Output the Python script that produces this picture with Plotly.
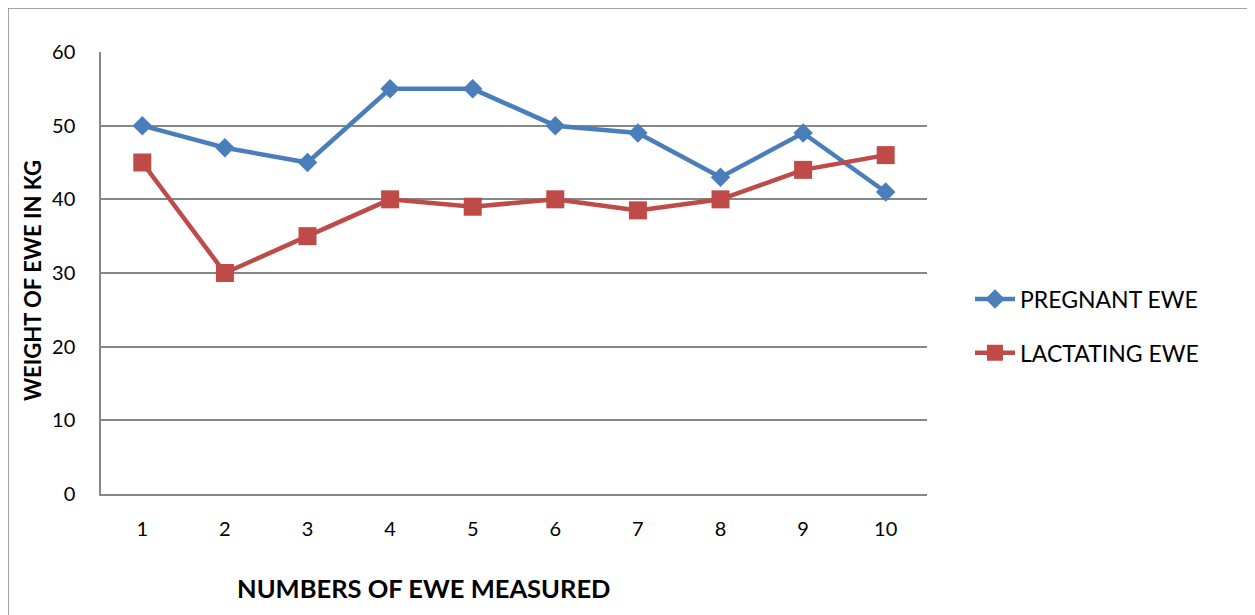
import plotly.graph_objects as go

categories = ["1", "2", "3", "4", "5", "6", "7", "8", "9", "10"]
pregnant = [50, 47, 45, 55, 55, 50, 49, 43, 49, 41]
lactating = [45, 30, 35, 40, 39, 40, 38.5, 40, 44, 46]
y_ticks = [0, 10, 20, 30, 40, 50, 60]

BLUE = "#4a7ebb"
RED = "#be4b48"
GRID = "#868686"
FONT = "Lato, 'Open Sans', sans-serif"

fig = go.Figure()
fig.add_trace(go.Scatter(
    x=categories, y=pregnant, name="PREGNANT EWE", mode="lines+markers",
    line=dict(color=BLUE, width=4.5),
    marker=dict(symbol="diamond", size=15, color=BLUE),
    legendgroup="a",
))
fig.add_trace(go.Scatter(
    x=categories, y=lactating, name="LACTATING EWE", mode="lines+markers",
    line=dict(color=RED, width=4.5),
    marker=dict(symbol="square", size=18, color=RED),
    legendgroup="b",
))

W, H = 1255, 615
OFF = 7  # page offset observed in the rendering
L, R, T, B = 100 - OFF, 926 - OFF, 51 - OFF, 493 - OFF
pw, ph = R - L, B - T


def px_x(x):
    return (x - OFF - L) / pw


def px_y(y):
    return (B - (y - OFF)) / ph


fig.update_layout(
    width=W, height=H,
    margin=dict(l=L, r=W - R, t=T, b=H - B),
    paper_bgcolor="white", plot_bgcolor="white",
    font=dict(family=FONT, color="#000000", size=19),
    showlegend=True,
    legend=dict(
        x=px_x(969), y=px_y(325), xanchor="left", yanchor="middle",
        font=dict(size=23, family=FONT), tracegroupgap=21,
        bgcolor="rgba(0,0,0,0)", itemwidth=40,
    ),
    xaxis=dict(
        type="category", showgrid=False, showline=True, linecolor=GRID, linewidth=1.5,
        ticks="", tickfont=dict(size=20), ticklabelstandoff=16,
        range=[-0.5, 9.5],
    ),
    yaxis=dict(
        range=[0, 60], tickvals=y_ticks, showgrid=True, gridcolor=GRID, gridwidth=1.5,
        showline=True, linecolor=GRID, linewidth=1.5, ticks="", zeroline=False,
        tickfont=dict(size=20), ticklabelstandoff=20,
    ),
    annotations=[
        dict(text="<b>NUMBERS OF EWE MEASURED</b>", xref="paper", yref="paper",
             x=px_x(423), y=px_y(587), showarrow=False, font=dict(size=25.5),
             xanchor="center", yanchor="middle"),
        dict(text="<b>WEIGHT OF EWE IN KG</b>", xref="paper", yref="paper",
             x=px_x(31), y=px_y(280), showarrow=False, font=dict(size=22),
             textangle=-90, xanchor="center", yanchor="middle"),
    ],
    shapes=[dict(
        type="rect", xref="paper", yref="paper",
        x0=px_x(7), x1=px_x(1275), y0=px_y(640), y1=px_y(7),
        line=dict(color=GRID, width=1.5), layer="below",
    )],
)

fig.write_html("out.html")
